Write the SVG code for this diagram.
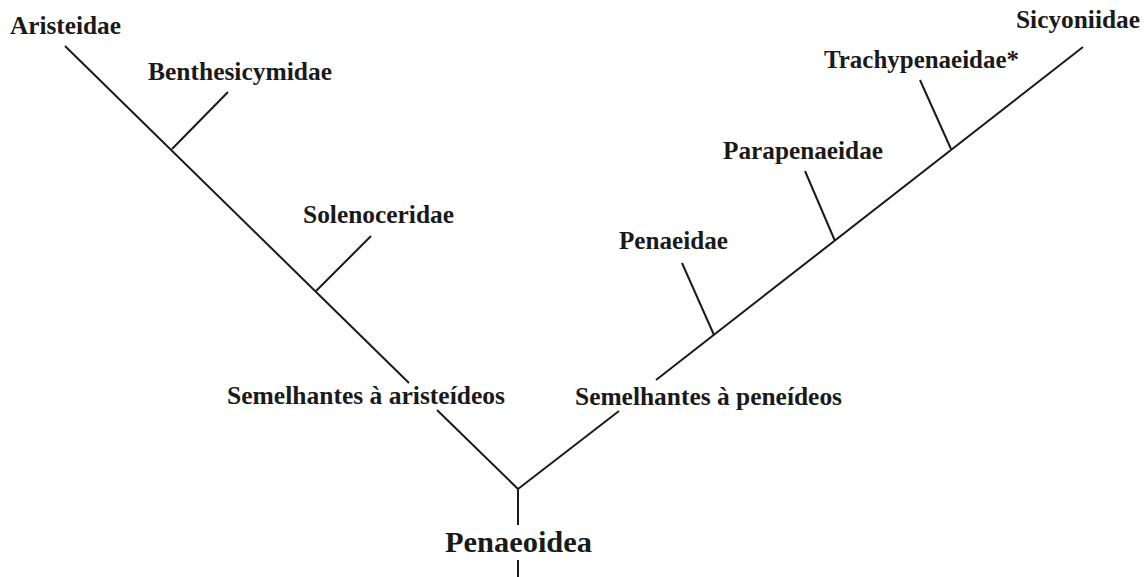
<svg xmlns="http://www.w3.org/2000/svg" width="1148" height="577" viewBox="0 0 1148 577">
<style>
.l{stroke:#1a1a1a;stroke-width:2;fill:none;stroke-linecap:butt}
.t{font-family:"Liberation Serif","Times New Roman",serif;font-weight:bold;font-size:25px;fill:#1a1a1a}
.big{font-size:30px}
</style>
<rect width="1148" height="577" fill="#fff"/>
<g id="connectors">
<line class="l" x1="65" y1="46" x2="409" y2="383"/>
<line class="l" x1="437" y1="410" x2="518" y2="489"/>
<line class="l" x1="518" y1="489" x2="619" y2="411"/>
<line class="l" x1="656" y1="380" x2="1083" y2="47"/>
<line class="l" x1="518" y1="489" x2="518" y2="525"/>
<line class="l" x1="518" y1="560" x2="518" y2="577"/>
<line class="l" x1="228" y1="92" x2="172" y2="149"/>
<line class="l" x1="371" y1="236" x2="316" y2="291"/>
<line class="l" x1="682" y1="263" x2="714" y2="335"/>
<line class="l" x1="805" y1="171" x2="835" y2="241"/>
<line class="l" x1="920" y1="80" x2="951" y2="149"/>
</g>
<g id="aristeidae"><text class="t" x="10" y="34" textLength="111" lengthAdjust="spacingAndGlyphs">Aristeidae</text></g>
<g id="benthesicymidae"><text class="t" x="148" y="80" textLength="184" lengthAdjust="spacingAndGlyphs">Benthesicymidae</text></g>
<g id="solenoceridae"><text class="t" x="303" y="223" textLength="151" lengthAdjust="spacingAndGlyphs">Solenoceridae</text></g>
<g id="semelhantes-aristeideos"><text class="t" x="227" y="404" textLength="278" lengthAdjust="spacingAndGlyphs">Semelhantes à aristeídeos</text></g>
<g id="semelhantes-peneideos"><text class="t" x="575" y="405" textLength="267" lengthAdjust="spacingAndGlyphs">Semelhantes à peneídeos</text></g>
<g id="penaeidae"><text class="t" x="619" y="249" textLength="109" lengthAdjust="spacingAndGlyphs">Penaeidae</text></g>
<g id="parapenaeidae"><text class="t" x="723" y="159" textLength="160" lengthAdjust="spacingAndGlyphs">Parapenaeidae</text></g>
<g id="trachypenaeidae"><text class="t" x="824" y="68" textLength="195" lengthAdjust="spacingAndGlyphs">Trachypenaeidae*</text></g>
<g id="sicyoniidae"><text class="t" x="1016" y="28" textLength="124" lengthAdjust="spacingAndGlyphs">Sicyoniidae</text></g>
<g id="penaeoidea"><text class="t big" x="445" y="552" textLength="147" lengthAdjust="spacingAndGlyphs">Penaeoidea</text></g>
</svg>
